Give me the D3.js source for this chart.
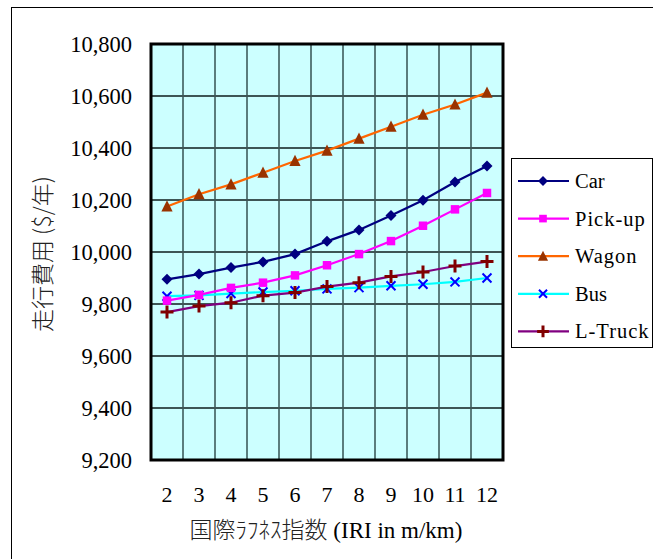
<!DOCTYPE html>
<html>
<head>
<meta charset="utf-8">
<script src="https://cdn.jsdelivr.net/npm/d3@7"></script>
<style>
  html, body { margin: 0; padding: 0; background: #fff; }
  svg { display: block; }
  .serif { font-family: 'Liberation Serif', 'Times New Roman', serif; }
  .cjk { font-family: 'Noto Sans CJK JP', sans-serif; font-weight: 300; }
</style>
</head>
<body>
<svg id="chart" width="653" height="559"></svg>
<script>
// IRI values (m/km) along the x axis
const iri = [2, 3, 4, 5, 6, 7, 8, 9, 10, 11, 12];

// Annual running cost ($/year) per vehicle type
const car    = [9895, 9915, 9940, 9962, 9992, 10041, 10085, 10140, 10199, 10269, 10331];
const pickup = [9813, 9835, 9862, 9882, 9910, 9949, 9992, 10042, 10101, 10164, 10227];
const wagon  = [10175, 10222, 10260, 10305, 10350, 10390, 10436, 10482, 10528, 10567, 10613];
const bus    = [9830, 9833, 9840, 9846, 9851, 9858, 9863, 9870, 9876, 9885, 9900];
const truck  = [9769, 9792, 9805, 9832, 9844, 9867, 9882, 9906, 9923, 9946, 9963];

const seriesNames = ["Car", "Pick-up", "Wagon", "Bus", "L-Truck"];
const yTicks = [9200, 9400, 9600, 9800, 10000, 10200, 10400, 10600, 10800];

const series = [
  { name: seriesNames[0], values: car,    line: "#000080", mark: "#000080", shape: "diamond" },
  { name: seriesNames[1], values: pickup, line: "#FF00FF", mark: "#FF00FF", shape: "square" },
  { name: seriesNames[2], values: wagon,  line: "#FF6600", mark: "#993300", shape: "triangle" },
  { name: seriesNames[3], values: bus,    line: "#00FFFF", mark: "#0000FF", shape: "x" },
  { name: seriesNames[4], values: truck,  line: "#800080", mark: "#800000", shape: "plus" }
];

const svg = d3.select("#chart");

// Outer chart frame
svg.append("rect")
  .attr("x", 11.5).attr("y", 7.5).attr("width", 700).attr("height", 600)
  .attr("fill", "#fff").attr("stroke", "#000").attr("stroke-width", 1);

const plot = { left: 151, top: 44, right: 503, bottom: 460 };

const x = d3.scaleBand()
  .domain(iri)
  .range([plot.left, plot.right])
  .padding(0);
const xc = v => x(v) + x.bandwidth() / 2;

const y = d3.scaleLinear()
  .domain([9200, 10800])
  .range([plot.bottom, plot.top]);

// Plot background
svg.append("rect")
  .attr("x", plot.left).attr("y", plot.top)
  .attr("width", plot.right - plot.left).attr("height", plot.bottom - plot.top)
  .attr("fill", "#CCFFFF");

// Gridlines
const grid = svg.append("g").attr("stroke", "#5a7d7d").attr("stroke-width", 2);
grid.selectAll("line.v")
  .data(iri.slice(1))
  .join("line")
  .attr("class", "v")
  .attr("x1", d => x(d)).attr("x2", d => x(d))
  .attr("y1", plot.top).attr("y2", plot.bottom);
grid.selectAll("line.h")
  .data(yTicks.slice(1, -1))
  .join("line")
  .attr("class", "h")
  .attr("x1", plot.left).attr("x2", plot.right)
  .attr("y1", d => y(d)).attr("y2", d => y(d))
  .attr("stroke", "#3d5555");

// Plot border
svg.append("rect")
  .attr("x", plot.left).attr("y", plot.top)
  .attr("width", plot.right - plot.left).attr("height", plot.bottom - plot.top)
  .attr("fill", "none").attr("stroke", "#000").attr("stroke-width", 3);

// Y axis labels
const yAxis = d3.axisLeft(y)
  .tickValues(yTicks)
  .tickFormat(d3.format(","))
  .tickSize(0)
  .tickPadding(19);
const yg = svg.append("g")
  .attr("transform", `translate(${plot.left},0)`)
  .call(yAxis)
  .attr("font-family", null).attr("font-size", null);
yg.select(".domain").remove();
yg.selectAll("text")
  .attr("class", "serif")
  .style("font-size", "22.5px").attr("fill", "#000");

// X axis labels
const xAxis = d3.axisBottom(x).tickSize(0).tickPadding(26);
const xg = svg.append("g")
  .attr("transform", `translate(0,${plot.bottom})`)
  .call(xAxis)
  .attr("font-family", null).attr("font-size", null);
xg.select(".domain").remove();
xg.selectAll("text")
  .attr("class", "serif")
  .style("font-size", "22px").attr("fill", "#000");

// Axis titles
const xt = svg.append("text")
  .attr("x", (plot.left + plot.right) / 2 - 1)
  .attr("y", 538)
  .attr("text-anchor", "middle")
  .style("font-size", "23px").attr("fill", "#000");
xt.append("tspan").attr("class", "cjk").attr("fill", "#222").text("国際ﾗﾌﾈｽ指数");
xt.append("tspan").attr("class", "serif").text(" (IRI in m/km)");

svg.append("text")
  .attr("class", "cjk")
  .attr("transform", `translate(51,${(plot.top + plot.bottom) / 2 + 2}) rotate(-90)`)
  .attr("text-anchor", "middle")
  .style("font-size", "23px").attr("fill", "#222")
  .text("走行費用 ($/年)");

// Marker drawing
function drawMarker(g, shape, color, s) {
  if (shape === "diamond") {
    g.append("path").attr("d", `M0,${-s}L${s},0L0,${s}L${-s},0Z`).attr("fill", color);
  } else if (shape === "square") {
    g.append("rect").attr("x", -s * 0.8).attr("y", -s * 0.8)
      .attr("width", s * 1.6).attr("height", s * 1.6).attr("fill", color);
  } else if (shape === "triangle") {
    g.append("path").attr("d", `M0,${-s * 1.1}L${s},${s * 0.9}L${-s},${s * 0.9}Z`).attr("fill", color);
  } else if (shape === "x") {
    g.append("path").attr("d", `M${-s * 0.8},${-s * 0.8}L${s * 0.8},${s * 0.8}M${s * 0.8},${-s * 0.8}L${-s * 0.8},${s * 0.8}`)
      .attr("stroke", color).attr("stroke-width", 2).attr("fill", "none");
  } else if (shape === "plus") {
    g.append("path").attr("d", `M${-s},0L${s},0M0,${-s}L0,${s}`)
      .attr("stroke", color).attr("stroke-width", 3).attr("fill", "none");
  }
}
const markSize = { diamond: 5.5, square: 5.3, triangle: 5.6, x: 5.6, plus: 6.5 };

const line = d3.line().x((d, i) => xc(iri[i])).y(d => y(d));

// Series lines (drawn bottom-up so Car ends on top)
const drawOrder = [3, 4, 1, 2, 0];
drawOrder.forEach(k => {
  const s = series[k];
  svg.append("path")
    .datum(s.values)
    .attr("d", line)
    .attr("fill", "none")
    .attr("stroke", s.line)
    .attr("stroke-width", 2.2);
  const mg = svg.append("g");
  s.values.forEach((v, i) => {
    const g = mg.append("g").attr("transform", `translate(${xc(iri[i])},${y(v)})`);
    drawMarker(g, s.shape, s.mark, markSize[s.shape]);
  });
});

// Legend
const legend = { x: 511, y: 158, w: 141, h: 189 };
svg.append("rect")
  .attr("x", legend.x + 0.5).attr("y", legend.y + 0.5)
  .attr("width", legend.w).attr("height", legend.h)
  .attr("fill", "#fff").attr("stroke", "#000").attr("stroke-width", 1);

series.forEach((s, i) => {
  const ly = 181 + i * 37.6;
  const g = svg.append("g");
  g.append("line")
    .attr("x1", 518).attr("x2", 569).attr("y1", ly).attr("y2", ly)
    .attr("stroke", s.line).attr("stroke-width", 2.2);
  const mg = g.append("g").attr("transform", `translate(543,${ly})`);
  drawMarker(mg, s.shape, s.mark, markSize[s.shape] * 0.9);
  g.append("text")
    .attr("class", "serif")
    .attr("x", 575).attr("y", ly + 7)
    .style("font-size", "20.5px").attr("fill", "#000")
    .style("letter-spacing", s.name.length > 3 ? "1px" : "0px")
    .text(s.name);
});
</script>
</body>
</html>
